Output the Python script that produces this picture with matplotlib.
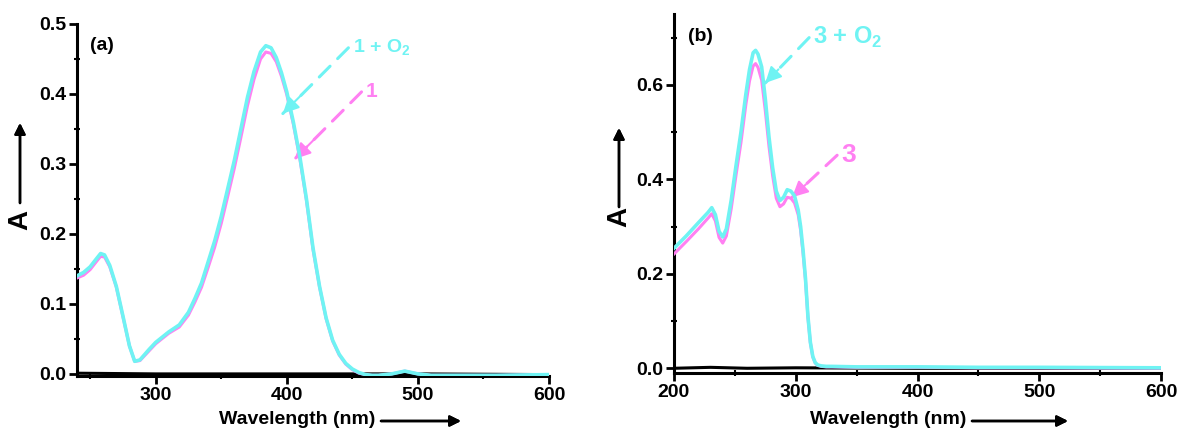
import numpy as np
import matplotlib
matplotlib.use("Agg")
import matplotlib.pyplot as plt

plt.rcParams['font.family'] = ['Liberation Sans', 'DejaVu Sans']
plt.rcParams['font.weight'] = 'bold'
plt.rcParams['mathtext.fontset'] = 'custom'
plt.rcParams['mathtext.rm'] = 'Liberation Sans:bold'

CYAN = '#6FF3F3'
PINK = '#FF80F2'

# ---- panel (a): compound 1 ----
wl_a = [240, 245, 250, 255, 258, 261, 265, 270, 275, 280, 284, 288, 295, 300,
        310, 318, 325, 330, 335, 340, 345, 350, 355, 360, 365, 370, 375, 380,
        384, 388, 392, 396, 400, 405, 410, 415, 420, 425, 430, 435, 440, 445,
        450, 455, 460, 465, 470, 480, 490, 500, 510, 530, 560, 600]
a_1_o2 = [0.140, 0.145, 0.153, 0.165, 0.172, 0.170, 0.155, 0.125, 0.083, 0.040,
          0.018, 0.020, 0.035, 0.045, 0.060, 0.070, 0.088, 0.108, 0.130, 0.160,
          0.190, 0.225, 0.265, 0.305, 0.350, 0.395, 0.432, 0.460, 0.469, 0.466,
          0.452, 0.430, 0.403, 0.360, 0.310, 0.250, 0.180, 0.125, 0.080, 0.048,
          0.028, 0.015, 0.007, 0.002, -0.001, -0.002, -0.002, 0.000, 0.004,
          0.000, -0.002, -0.002, -0.002, -0.001]
a_1 = [0.137, 0.141, 0.149, 0.161, 0.168, 0.167, 0.153, 0.124, 0.082, 0.040,
       0.018, 0.019, 0.033, 0.043, 0.058, 0.067, 0.084, 0.103, 0.124, 0.152,
       0.181, 0.215, 0.254, 0.294, 0.338, 0.383, 0.421, 0.450, 0.460, 0.458,
       0.446, 0.425, 0.399, 0.357, 0.307, 0.248, 0.178, 0.124, 0.079, 0.047,
       0.027, 0.014, 0.006, 0.001, -0.001, -0.002, -0.002, 0.000, 0.004,
       0.000, -0.002, -0.002, -0.002, -0.001]
wl_a_base = [240, 300, 400, 500, 600]
a_base = [0.001, 0.000, 0.000, 0.000, -0.001]

# ---- panel (b): compound 3 ----
wl_b = [200, 210, 220, 228, 231, 234, 237, 240, 243, 247, 251, 255, 259, 262,
        265, 267, 269, 272, 275, 278, 281, 284, 287, 290, 293, 296, 299, 302,
        304, 306, 308, 310, 312, 314, 316, 318, 321, 325, 330, 350, 400, 450,
        500, 600]
b_3_o2 = [0.254, 0.280, 0.308, 0.330, 0.340, 0.325, 0.290, 0.278, 0.295, 0.356,
          0.430, 0.500, 0.580, 0.632, 0.668, 0.673, 0.665, 0.638, 0.570, 0.490,
          0.425, 0.375, 0.355, 0.362, 0.378, 0.375, 0.365, 0.335, 0.300, 0.250,
          0.190, 0.110, 0.055, 0.025, 0.012, 0.007, 0.005, 0.004, 0.004, 0.003,
          0.003, 0.002, 0.002, 0.001]
b_3 = [0.242, 0.268, 0.295, 0.318, 0.327, 0.312, 0.277, 0.265, 0.280, 0.338,
       0.410, 0.478, 0.558, 0.608, 0.640, 0.645, 0.637, 0.610, 0.545, 0.470,
       0.408, 0.360, 0.342, 0.348, 0.362, 0.360, 0.350, 0.325, 0.292, 0.244,
       0.186, 0.108, 0.054, 0.024, 0.011, 0.006, 0.004, 0.003, 0.003, 0.002,
       0.002, 0.001, 0.001, 0.000]
wl_b_base = [200, 230, 260, 300, 400, 500, 600]
b_base = [0.000, 0.002, 0.000, 0.001, 0.000, 0.000, 0.000]

W, H = 1178, 432
fig = plt.figure(figsize=(W / 100, H / 100), dpi=100)
ax_a = fig.add_axes([77 / W, 56 / H, 472 / W, 352 / H])
ax_b = fig.add_axes([674 / W, 59 / H, 487 / W, 359 / H])


def style(ax, xlim, ylim, xmaj, ymaj, ymin, xmin):
    ax.set_xlim(*xlim)
    ax.set_ylim(*ylim)
    ax.set_xticks(xmaj)
    ax.set_yticks(ymaj)
    ax.set_yticks(ymin, minor=True)
    ax.set_xticks(xmin, minor=True)
    for s in ['top', 'right']:
        ax.spines[s].set_visible(False)
    for s in ['left', 'bottom']:
        ax.spines[s].set_linewidth(2.2)
    ax.tick_params(which='major', direction='out', length=6, width=2,
                   labelsize=14, pad=2)
    ax.tick_params(which='minor', direction='inout', length=4, width=1.5)
    for lab in ax.get_xticklabels() + ax.get_yticklabels():
        lab.set_fontweight('bold')


def pointer(ax, text, tail, tip, color, size):
    ax.annotate('', xy=tip, xytext=tail,
                arrowprops=dict(arrowstyle='-', color=color, lw=2.2,
                                linestyle=(0, (5, 3.5)), shrinkA=0, shrinkB=0))
    near = (tip[0] + 0.3 * (tail[0] - tip[0]), tip[1] + 0.3 * (tail[1] - tip[1]))
    ax.annotate('', xy=tip, xytext=near,
                arrowprops=dict(arrowstyle='-|>', color=color, lw=1.5,
                                mutation_scale=24, shrinkA=0, shrinkB=0))
    ax.annotate(text, xy=tail, xytext=(3, 0), textcoords='offset points',
                color=color, fontsize=size, fontweight='bold',
                ha='left', va='center')


# panel a
ax_a.plot(wl_a_base, a_base, color='black', lw=2.2, zorder=2)
ax_a.plot(wl_a, a_1, color=PINK, lw=2.2, zorder=3)
ax_a.plot(wl_a, a_1_o2, color=CYAN, lw=2.6, zorder=4)
style(ax_a, (240, 600), (-0.003, 0.5), [300, 400, 500, 600],
      [0.0, 0.1, 0.2, 0.3, 0.4, 0.5],
      [0.05, 0.15, 0.25, 0.35, 0.45], [250, 350, 450, 550])
ax_a.text(0.028, 0.94, '(a)', transform=ax_a.transAxes, fontsize=14,
          fontweight='bold', va='center')
pointer(ax_a, r'1 + O$_\mathrm{2}$', (447, 0.466), (397, 0.372), CYAN, 14)
pointer(ax_a, r'1', (457, 0.403), (406, 0.307), PINK, 15)

# panel b
ax_b.plot(wl_b_base, b_base, color='black', lw=2.2, zorder=2)
ax_b.plot(wl_b, b_3, color=PINK, lw=2.2, zorder=3)
ax_b.plot(wl_b, b_3_o2, color=CYAN, lw=2.6, zorder=4)
style(ax_b, (200, 600), (-0.01, 0.75), [200, 300, 400, 500, 600],
      [0.0, 0.2, 0.4, 0.6], [0.1, 0.3, 0.5, 0.7], [250, 350, 450, 550])
ax_b.text(0.029, 0.936, '(b)', transform=ax_b.transAxes, fontsize=14,
          fontweight='bold', va='center')
pointer(ax_b, r'3 + O$_\mathrm{2}$', (311, 0.70), (275, 0.604), CYAN, 17)
pointer(ax_b, r'3', (334, 0.451), (297, 0.362), PINK, 19)

# axis titles with arrows (figure pixels)
def fx(px):
    return px / W


def fy(py):
    return 1 - py / H


for x0, arrow_top, arrow_bot, a_y in [(20, 123, 203, 220), (619, 128, 207, 217)]:
    fig.text(fx(x0), fy(a_y), 'A', rotation=90, fontsize=20, fontweight='bold',
             ha='center', va='center')
    fig.add_artist(plt.annotate('', xy=(fx(x0), fy(arrow_top)),
                                xytext=(fx(x0), fy(arrow_bot)),
                                xycoords='figure fraction',
                                textcoords='figure fraction',
                                arrowprops=dict(arrowstyle='-|>', color='black',
                                                lw=1.8, mutation_scale=16,
                                                shrinkA=0, shrinkB=0)))

for cx, ax0, ax1 in [(297, 381, 461), (888, 972, 1068)]:
    fig.text(fx(cx), fy(420), 'Wavelength (nm)', fontsize=14, fontweight='bold',
             ha='center', va='center')
    fig.add_artist(plt.annotate('', xy=(fx(ax1), fy(421)),
                                xytext=(fx(ax0), fy(421)),
                                xycoords='figure fraction',
                                textcoords='figure fraction',
                                arrowprops=dict(arrowstyle='-|>', color='black',
                                                lw=1.8, mutation_scale=16,
                                                shrinkA=0, shrinkB=0)))

fig.savefig('out.png', dpi=100)
